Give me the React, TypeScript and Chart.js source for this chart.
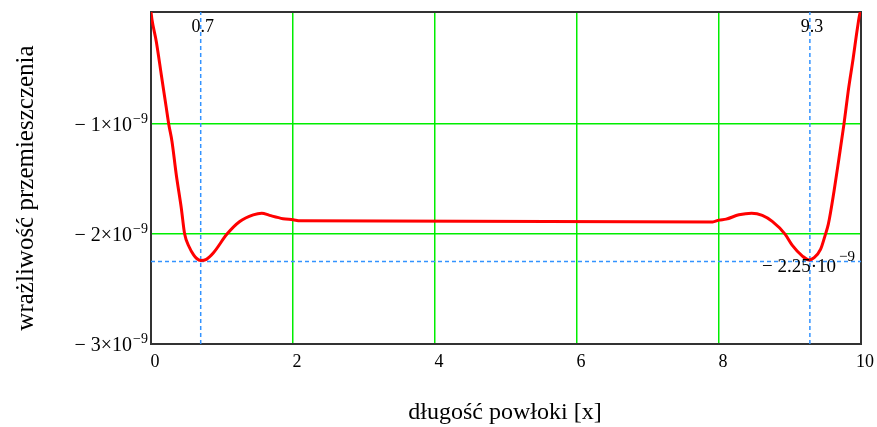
import React, { useEffect, useRef } from "react";
import { Chart, registerables } from "chart.js";

Chart.register(...registerables);

// Curve (y in units of 10^-9)
const xPositions = [0, 0.014, 0.075, 0.145, 0.215, 0.25, 0.295, 0.356, 0.426, 0.474, 0.54, 0.6, 0.64, 0.7, 0.78, 0.88, 1.07, 1.25, 1.44, 1.56, 1.67, 1.86, 2.0, 2.1, 7.91, 8.0, 8.1, 8.28, 8.46, 8.61, 8.75, 8.93, 9.03, 9.175, 9.27, 9.34, 9.43, 9.5, 9.54, 9.62, 9.69, 9.76, 9.82, 9.89, 9.95, 9.986, 10];
const sensitivity = [0.02, -0.05, -0.25, -0.55, -0.85, -1.0, -1.155, -1.46, -1.76, -2.0, -2.12, -2.19, -2.22, -2.24, -2.23, -2.17, -2.0, -1.885, -1.825, -1.81, -1.83, -1.86, -1.87, -1.88, -1.89, -1.873, -1.864, -1.825, -1.81, -1.83, -1.885, -2.0, -2.1, -2.2, -2.235, -2.215, -2.14, -2.0, -1.91, -1.61, -1.31, -1.0, -0.7, -0.4, -0.125, 0.01, 0.02];

const xTicks = [0, 2, 4, 6, 8, 10];
const yTicks = [-3, -2, -1];
const yTickLabels = ["\u2212 3\u00d710", "\u2212 2\u00d710", "\u2212 1\u00d710"];
const exponentLabel = "\u22129";

const markerX = [0.7, 9.28];
const markerXLabels = ["0.7", "9.3"];
const markerY = -2.25;
const markerYLabel = "\u2212 2.25\u00b710";

const xTitle = "d\u0142ugo\u015b\u0107 pow\u0142oki [x]";
const yTitle = "wra\u017cliwo\u015b\u0107 przemieszczenia";

const xMin = 0;
const xMax = 10;
const yMin = -3;
const yMax = 0.02;

const SERIF = '"Liberation Serif", "Times New Roman", serif';

const textPlugin = {
  id: "mathcadText",
  beforeDatasetsDraw(chart: any) {
    const { ctx, chartArea } = chart;
    ctx.save();
    ctx.strokeStyle = "#333333";
    ctx.lineWidth = 2;
    ctx.strokeRect(chartArea.left, chartArea.top, chartArea.right - chartArea.left, chartArea.bottom - chartArea.top);
    ctx.restore();
  },
  afterDatasetsDraw(chart: any) {
    const { ctx, chartArea } = chart;
    const xs = chart.scales.x;
    const ys = chart.scales.y;
    ctx.save();
    ctx.fillStyle = "#000000";

    // y tick labels with superscript exponent
    yTicks.forEach((v, i) => {
      const py = ys.getPixelForValue(v);
      const rightX = chartArea.left - 19;
      ctx.font = `20px ${SERIF}`;
      ctx.textAlign = "right";
      ctx.textBaseline = "alphabetic";
      ctx.fillText(yTickLabels[i], rightX, py + 7);
      ctx.font = `14px ${SERIF}`;
      ctx.textAlign = "left";
      ctx.fillText(exponentLabel, rightX + 1, py - 1);
    });

    // marker x labels
    markerX.forEach((v, i) => {
      const px = xs.getPixelForValue(v);
      ctx.font = `18px ${SERIF}`;
      ctx.textAlign = "center";
      ctx.textBaseline = "alphabetic";
      ctx.fillText(markerXLabels[i], px + 2, chartArea.top + 20);
    });

    // marker y label
    {
      const py = ys.getPixelForValue(markerY);
      const rightX = chartArea.right - 25;
      ctx.font = `19px ${SERIF}`;
      ctx.textAlign = "right";
      ctx.fillText(markerYLabel, rightX, py + 10);
      ctx.font = `15px ${SERIF}`;
      ctx.textAlign = "left";
      ctx.fillText(exponentLabel, rightX + 3, py - 1);
    }

    // axis titles
    ctx.textAlign = "center";
    ctx.textBaseline = "alphabetic";
    ctx.font = `24px ${SERIF}`;
    ctx.fillText(xTitle, (chartArea.left + chartArea.right) / 2 - 1, 419);

    ctx.font = `25px ${SERIF}`;
    ctx.translate(33, 188);
    ctx.rotate(-Math.PI / 2);
    ctx.fillText(yTitle, 0, 0);
    ctx.restore();
  },
};

export default function App() {
  const canvasRef = useRef<HTMLCanvasElement | null>(null);

  useEffect(() => {
    if (!canvasRef.current) return;
    const curve = xPositions.map((x, i) => ({ x, y: sensitivity[i] }));
    const dashStyle = {
      borderColor: "#3393ff",
      borderWidth: 1.5,
      borderDash: [4, 3],
      pointRadius: 0,
      fill: false,
      tension: 0,
    };
    const chart = new Chart(canvasRef.current, {
      type: "line",
      data: {
        datasets: [
          {
            label: "curve",
            data: curve,
            borderColor: "#ff0000",
            borderWidth: 3,
            pointRadius: 0,
            fill: false,
            cubicInterpolationMode: "monotone",
          },
          ...markerX.map((v) => ({
            label: "marker",
            data: [
              { x: v, y: yMin },
              { x: v, y: yMax },
            ],
            ...dashStyle,
          })),
          {
            label: "markerY",
            data: [
              { x: xMin, y: markerY },
              { x: xMax, y: markerY },
            ],
            ...dashStyle,
          },
        ] as any,
      },
      options: {
        animation: false,
        responsive: true,
        maintainAspectRatio: false,
        layout: { padding: { top: 12, right: 15, left: 0, bottom: 0 } },
        plugins: { legend: { display: false }, tooltip: { enabled: false } },
        scales: {
          x: {
            type: "linear",
            min: xMin,
            max: xMax,
            afterBuildTicks: (scale: any) => {
              scale.ticks = xTicks.map((v) => ({ value: v }));
            },
            afterFit: (scale: any) => {
              scale.height = 83;
            },
            grid: { color: "#00ee00", lineWidth: 1.5, drawTicks: false },
            border: { display: false },
            ticks: {
              padding: 7,
              labelOffset: 4,
              color: "#000000",
              font: { family: SERIF, size: 18 },
              maxRotation: 0,
              callback: (v: any) => String(v),
            },
          },
          y: {
            type: "linear",
            min: yMin,
            max: yMax,
            afterBuildTicks: (scale: any) => {
              scale.ticks = yTicks.map((v) => ({ value: v }));
            },
            afterFit: (scale: any) => {
              scale.width = 151;
            },
            grid: { color: "#00ee00", lineWidth: 1.5, drawTicks: false },
            border: { display: false },
            ticks: { display: false },
          },
        },
      } as any,
      plugins: [textPlugin],
    });
    return () => chart.destroy();
  }, []);

  return (
    <div style={{ position: "fixed", left: 0, top: 0, width: 877, height: 427, background: "#ffffff" }}>
      <canvas ref={canvasRef} />
    </div>
  );
}
